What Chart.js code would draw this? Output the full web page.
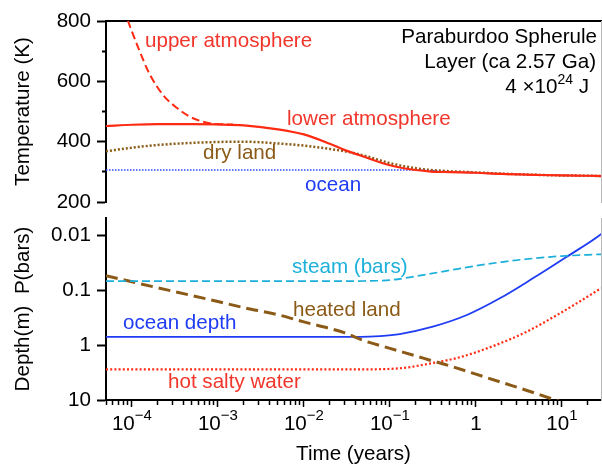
<!DOCTYPE html>
<html>
<head>
<meta charset="utf-8">
<script src="https://cdn.jsdelivr.net/npm/chart.js@4.4.1/dist/chart.umd.min.js"></script>
<style>
  html, body { margin: 0; padding: 0; background: #fff; overflow: hidden; }
  #top-wrap { position: absolute; left: 0; top: 0; width: 602px; height: 210px; }
  #bottom-wrap { position: absolute; left: 0; top: 210px; width: 602px; height: 260px; }
</style>
</head>
<body>
<div id="top-wrap"><canvas id="temp-chart" width="602" height="210"></canvas></div>
<div id="bottom-wrap"><canvas id="depth-chart" width="602" height="260"></canvas></div>
<script>
// time axis (years)
var times = [5e-5, 1e-4, 2e-4, 5e-4, 1e-3, 2e-3, 5e-3, 1e-2, 2e-2, 3e-2, 5e-2,
             0.1, 0.2, 0.3, 0.5, 1, 2, 5, 10, 20, 29];

// temperatures (K)
var upperTimes = [8e-5, 9e-5, 1.2e-4, 1.6e-4, 2.3e-4, 3.3e-4, 4.7e-4, 6.7e-4, 9e-4, 1.5e-3];
var upperAtmosphere = [840, 800, 708, 625, 555, 513, 483, 466, 459, 457];
var lowerAtmosphere = [452, 456, 458, 458, 457, 454, 441, 424, 393, 372, 350,
                       322, 306, 301, 299, 297, 293, 290, 288, 287, 286];
var dryLand = [368, 380, 389, 396, 399, 400, 394, 387, 376, 368, 354,
               329, 312, 306, 302, 298, 294, 290, 288, 287, 286];
var oceanTemp = [306, 306, 306, 306, 306, 306, 306, 306, 306, 306, 306,
                 306, 306, 304, 300, 297, 293, 290, 288, 287, 286];

// depth (m) and pressure (bars)
var steamBars = [0.069, 0.069, 0.069, 0.069, 0.069, 0.069, 0.069, 0.069, 0.069, 0.069, 0.0685,
                 0.066, 0.0562, 0.0504, 0.0437, 0.0363, 0.031, 0.0263, 0.0241, 0.0229, 0.0224];
var heatedLand = [0.055, 0.0708, 0.0912, 0.126, 0.162, 0.209, 0.282, 0.380, 0.501, 0.603, 0.832,
                  1.15, 1.58, 1.91, 2.40, 3.39, 4.79, 7.59, 11.0, 15.8, 19.5];
var oceanDepthTimes = [5e-5, 6e-4, 9e-3, 0.045, 0.077, 0.13, 0.316, 0.785, 1.9, 4.6, 11.4, 27.7, 29];
var oceanDepth = [0.71, 0.71, 0.71, 0.71, 0.687, 0.631, 0.464, 0.285, 0.1416, 0.0613, 0.0248, 0.0100, 0.0094];
var waterTimes = [5e-5, 0.045, 0.13, 0.333, 0.65, 1.6, 3.9, 9.5, 22.9, 28.4];
var hotSaltyWater = [2.77, 2.77, 2.65, 2.09, 1.67, 1.04, 0.573, 0.265, 0.115, 0.093];

var tempTicks = [200, 300, 400, 500, 600, 700, 800];
var depthTicks = [0.01, 0.1, 1, 10];
var timeDecades = [-4, -3, -2, -1, 0, 1];

var FONT = "'Liberation Sans', Arial, Helvetica, sans-serif";
var FS = 20.6;
var RED = '#ff2a12', RED_TEXT = '#f2352a';
var BROWN = '#8b5a16';
var BLUE = '#1f3cf5';
var CYAN = '#1cb0da';

Chart.defaults.font.family = FONT;
Chart.defaults.color = '#000';

function pairs(xs, ys) {
	return xs.map(function(x, i) { return {x: x, y: ys[i]}; });
}

function isDecade(v) {
	var l = Math.log10(v);
	return Math.abs(l - Math.round(l)) < 1e-6;
}

// base text + raised superscript, drawn left to right from x
function drawSup(ctx, base, sup, tail, x, y, supSize, rise) {
	ctx.font = FS + 'px ' + FONT;
	var w1 = ctx.measureText(base).width;
	ctx.fillText(base, x, y);
	ctx.font = supSize + 'px ' + FONT;
	var w2 = ctx.measureText(sup).width;
	ctx.fillText(sup, x + w1, y - rise);
	if (tail) {
		ctx.font = FS + 'px ' + FONT;
		ctx.fillText(tail, x + w1 + w2, y);
	}
}

function supWidth(ctx, base, sup, tail, supSize) {
	ctx.font = FS + 'px ' + FONT;
	var w = ctx.measureText(base).width + (tail ? ctx.measureText(tail).width : 0);
	ctx.font = supSize + 'px ' + FONT;
	return w + ctx.measureText(sup).width;
}

function textPlugin(labels) {
	return {
		id: 'texts',
		afterDraw: function(chart) {
			var ctx = chart.ctx;
			ctx.save();
			ctx.textBaseline = 'alphabetic';
			labels.forEach(function(l) {
				ctx.fillStyle = l.color;
				if (l.sup) {
					ctx.textAlign = 'left';
					var w = supWidth(ctx, l.text, l.sup, l.tail, 14);
					drawSup(ctx, l.text, l.sup, l.tail, l.x - w, l.y, 14, 9);
				} else {
					ctx.font = FS + 'px ' + FONT;
					ctx.textAlign = l.align || 'left';
					ctx.fillText(l.text, l.x, l.y);
				}
			});
			ctx.restore();
		}
	};
}

// decade labels of the time axis, 10 with a real superscript exponent
var timeLabelPlugin = {
	id: 'timeLabels',
	afterDraw: function(chart) {
		var ctx = chart.ctx, scale = chart.scales.x;
		var y = scale.top + 30;
		ctx.save();
		ctx.fillStyle = '#000';
		ctx.textAlign = 'left';
		ctx.textBaseline = 'alphabetic';
		timeDecades.forEach(function(e) {
			var px = scale.getPixelForValue(Math.pow(10, e));
			if (e === 0) {
				ctx.font = FS + 'px ' + FONT;
				var w0 = ctx.measureText('1').width;
				ctx.fillText('1', px - w0 / 2, y);
				return;
			}
			var sup = e < 0 ? '\u2212' + Math.abs(e) : String(e);
			var w = supWidth(ctx, '10', sup, '', 15);
			drawSup(ctx, '10', sup, '', px - w / 2, y, 15, 10);
		});
		ctx.restore();
	}
};

var topTexts = [
	{text: 'upper atmosphere', x: 145, y: 47, color: RED_TEXT},
	{text: 'lower atmosphere', x: 287, y: 125, color: RED_TEXT},
	{text: 'dry land', x: 203, y: 159, color: BROWN},
	{text: 'ocean', x: 305, y: 191, color: BLUE},
	{text: 'Paraburdoo Spherule', x: 597, y: 43, color: '#000', align: 'right'},
	{text: 'Layer (ca 2.57 Ga)', x: 596, y: 68, color: '#000', align: 'right'},
	{text: '4 \u00D710', sup: '24', tail: ' J', x: 589, y: 93, color: '#000'}
];

var bottomTexts = [
	{text: 'steam (bars)', x: 292, y: 63, color: CYAN},
	{text: 'heated land', x: 293, y: 106, color: BROWN},
	{text: 'ocean depth', x: 123, y: 119, color: BLUE},
	{text: 'hot salty water', x: 168, y: 178, color: RED_TEXT}
];

function noPadY(w) {
	return function(s) { s.width = w; s.paddingTop = 0; s.paddingBottom = 0; };
}
function noPadX(h) {
	return function(s) { s.height = h; s.paddingLeft = 0; s.paddingRight = 0; };
}

var rightEdge = {
	position: 'right', type: 'linear', min: 0, max: 1,
	afterFit: noPadY(1),
	ticks: {display: false},
	grid: {drawOnChartArea: false, drawTicks: false},
	border: {display: true, color: '#b8b8b8', width: 1}
};

new Chart(document.getElementById('temp-chart'), {
	type: 'line',
	data: {
		datasets: [
			{label: 'lower atmosphere', data: pairs(times, lowerAtmosphere), borderColor: RED, borderWidth: 2.2},
			{label: 'upper atmosphere', data: pairs(upperTimes, upperAtmosphere), borderColor: RED, borderWidth: 2, borderDash: [8, 4]},
			{label: 'dry land', data: pairs(times, dryLand), borderColor: BROWN, borderWidth: 2.5, borderDash: [2, 2]},
			{label: 'ocean', data: pairs(times, oceanTemp), borderColor: '#2a48ff', borderWidth: 1.5, borderDash: [1.5, 1.5]}
		]
	},
	options: {
		responsive: false,
		animation: false,
		layout: {padding: {top: 21, bottom: 8, left: 0, right: 0}},
		elements: {point: {radius: 0}, line: {cubicInterpolationMode: 'monotone', fill: false}},
		plugins: {legend: {display: false}, tooltip: {enabled: false}},
		scales: {
			x: {
				type: 'logarithmic', position: 'top', min: 5e-5, max: 28.5, bounds: 'data',
				afterFit: noPadX(0),
				ticks: {display: false},
				grid: {drawOnChartArea: false, drawTicks: false},
				border: {display: true, color: '#000', width: 2}
			},
			y: {
				type: 'linear', min: 200, max: 800, bounds: 'data',
				afterFit: noPadY(106),
				afterBuildTicks: function(s) { s.ticks = tempTicks.map(function(v) { return {value: v}; }); },
				ticks: {
					autoSkip: false, padding: 6, color: '#000', font: {size: FS},
					callback: function(v) { return v % 200 === 0 ? String(v) : ''; }
				},
				grid: {
					drawOnChartArea: false, tickLength: 9, tickWidth: 2, tickColor: '#000',
					tickBorderDash: function(ctx) { return ctx.tick && ctx.tick.value % 200 ? [0, 5, 3, 30] : []; }
				},
				border: {color: '#000', width: 2},
				title: {display: true, text: 'Temperature (K)', color: '#000', font: {size: FS}, padding: {top: 11, bottom: 0}}
			},
			yr: rightEdge
		}
	},
	plugins: [textPlugin(topTexts)]
});

new Chart(document.getElementById('depth-chart'), {
	type: 'line',
	data: {
		datasets: [
			{label: 'steam (bars)', data: pairs(times, steamBars), borderColor: CYAN, borderWidth: 1.7, borderDash: [8, 4]},
			{label: 'heated land', data: pairs(times, heatedLand), borderColor: BROWN, borderWidth: 3, borderDash: [12, 6]},
			{label: 'ocean depth', data: pairs(oceanDepthTimes, oceanDepth), borderColor: BLUE, borderWidth: 1.8},
			{label: 'hot salty water', data: pairs(waterTimes, hotSaltyWater), borderColor: RED, borderWidth: 2.2, borderDash: [2, 2.2]}
		]
	},
	options: {
		responsive: false,
		animation: false,
		layout: {padding: {top: 8, bottom: 0, left: 0, right: 0}},
		elements: {point: {radius: 0}, line: {cubicInterpolationMode: 'monotone', fill: false}},
		plugins: {legend: {display: false}, tooltip: {enabled: false}},
		scales: {
			x: {
				type: 'logarithmic', position: 'bottom', min: 5e-5, max: 28.5, bounds: 'data',
				afterFit: noPadX(70),
				afterBuildTicks: function(s) {
					var t = [];
					for (var e = -5; e <= 1; e++) {
						for (var m = 1; m <= 9; m++) {
							var v = parseFloat((m * Math.pow(10, e)).toPrecision(6));
							if (v >= s.min && v <= s.max) t.push({value: v, major: m === 1});
						}
					}
					s.ticks = t;
				},
				ticks: {display: false, autoSkip: false},
				grid: {
					drawOnChartArea: false, tickLength: 7, tickWidth: 1.5, tickColor: '#000',
					tickBorderDash: function(ctx) { return ctx.tick && !isDecade(ctx.tick.value) ? [4, 30] : []; }
				},
				border: {color: '#000', width: 2},
				title: {display: true, text: 'Time (years)', color: '#000', font: {size: FS}, padding: {top: 0, bottom: 3}}
			},
			y: {
				type: 'logarithmic', reverse: true, min: 0.0049, max: 10, bounds: 'data',
				afterFit: noPadY(106),
				afterBuildTicks: function(s) { s.ticks = depthTicks.map(function(v) { return {value: v}; }); },
				ticks: {
					autoSkip: false, padding: 6, color: '#000', font: {size: FS},
					callback: function(v) { return String(v); }
				},
				grid: {drawOnChartArea: false, tickLength: 9, tickWidth: 2, tickColor: '#000'},
				border: {color: '#000', width: 2},
				title: {display: true, text: 'Depth(m)  P(bars)', color: '#000', font: {size: FS}, padding: {top: 11, bottom: 0}}
			},
			yr: rightEdge
		}
	},
	plugins: [textPlugin(bottomTexts), timeLabelPlugin]
});
</script>
</body>
</html>
